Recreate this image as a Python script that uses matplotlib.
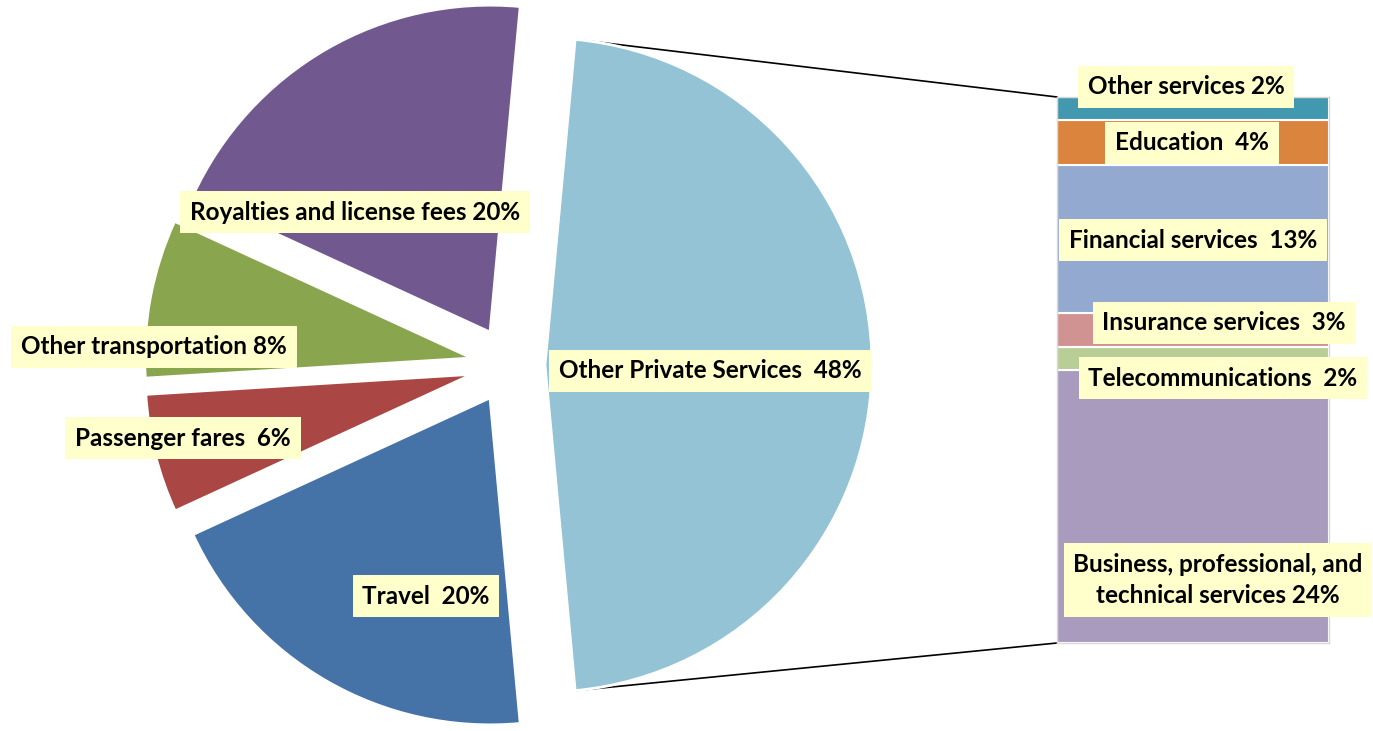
import matplotlib.pyplot as plt
import numpy as np

W, H = 1373, 731

# pie part (counterclockwise, starting with the split-off slice)
pie_labels = ['Other Private Services  48%', 'Royalties and license fees 20%',
              'Other transportation 8%', 'Passenger fares  6%', 'Travel  20%']
pie_values = [48, 20, 8, 6, 20]
pie_colors = ['#93C3D5', '#71588F', '#89A54E', '#AA4643', '#4572A7']

# bar part (bottom to top)
bar_labels = ['Business, professional, and\ntechnical services 24%', 'Telecommunications  2%',
              'Insurance services  3%', 'Financial services  13%', 'Education  4%',
              'Other services 2%']
bar_values = [24, 2, 3, 13, 4, 2]
bar_colors = ['#A99BBD', '#B9CD96', '#D19392', '#93A9CF', '#DB843D', '#4198AF']

# label centres in image pixels
pie_label_pos = [(710, 371), (355, 212), (154, 347), (183, 438), (426, 596)]
bar_label_pos = [(1218, 580), (1223, 378), (1224, 323), (1193, 240), (1192, 143), (1186, 87)]

def fig_xy(x, y):
    return x / W, 1 - y / H

fig = plt.figure(figsize=(W / 100, H / 100), dpi=100)
ax = fig.add_axes([0, 0, 1, 1])

cx, cy, R = 509, H - 365, 327
start = -pie_values[0] / sum(pie_values) * 360 / 2
wedges, _ = ax.pie(pie_values, colors=pie_colors, startangle=start, counterclock=True,
                   explode=[0.11] + [0.116] * (len(pie_values) - 1),
                   wedgeprops=dict(edgecolor='white', linewidth=2))
ax.set_xlim(-cx / R, (W - cx) / R)
ax.set_ylim(-cy / R, (H - cy) / R)
ax.set_aspect('auto')
ax.axis('off')

bx0, by0, bw, bh = 1057, 88, 272, 546
bax = fig.add_axes([bx0 / W, by0 / H, bw / W, bh / H])
bottoms = np.concatenate([[0], np.cumsum(bar_values)[:-1]])
bax.bar(0, bar_values, bottom=bottoms, width=1, color=bar_colors,
        edgecolor='white', linewidth=1.5)
bax.set_xlim(-0.5, 0.5)
bax.set_ylim(0, sum(bar_values))
bax.set_xticks([])
bax.set_yticks([])
for s in bax.spines.values():
    s.set_color('#D8D8D8')
    s.set_linewidth(1)

# connector lines from the split slice to the bar
w0 = wedges[0]
wc = np.array(w0.center)
to_data = ax.transData.inverted()
for theta, corner in [(w0.theta2, (0, 1)), (w0.theta1, (0, 0))]:
    p = wc + w0.r * np.array([np.cos(np.radians(theta)), np.sin(np.radians(theta))])
    q = to_data.transform(bax.transAxes.transform(corner))
    ax.plot([p[0], q[0]], [p[1], q[1]], color='black', linewidth=1.2, zorder=0.5)

box = dict(boxstyle='square,pad=0.4', fc='#FFFFCC', ec='none')
txt = dict(fontsize=17.5, fontweight='bold', family=['Lato', 'DejaVu Sans'],
           ha='center', va='center', bbox=box, linespacing=1.45)
for lab, (x, y) in zip(pie_labels, pie_label_pos):
    fig.text(*fig_xy(x, y), lab, **txt)
for lab, (x, y) in zip(bar_labels, bar_label_pos):
    fig.text(*fig_xy(x, y), lab, **txt)

fig.savefig('out.png', dpi=100)
